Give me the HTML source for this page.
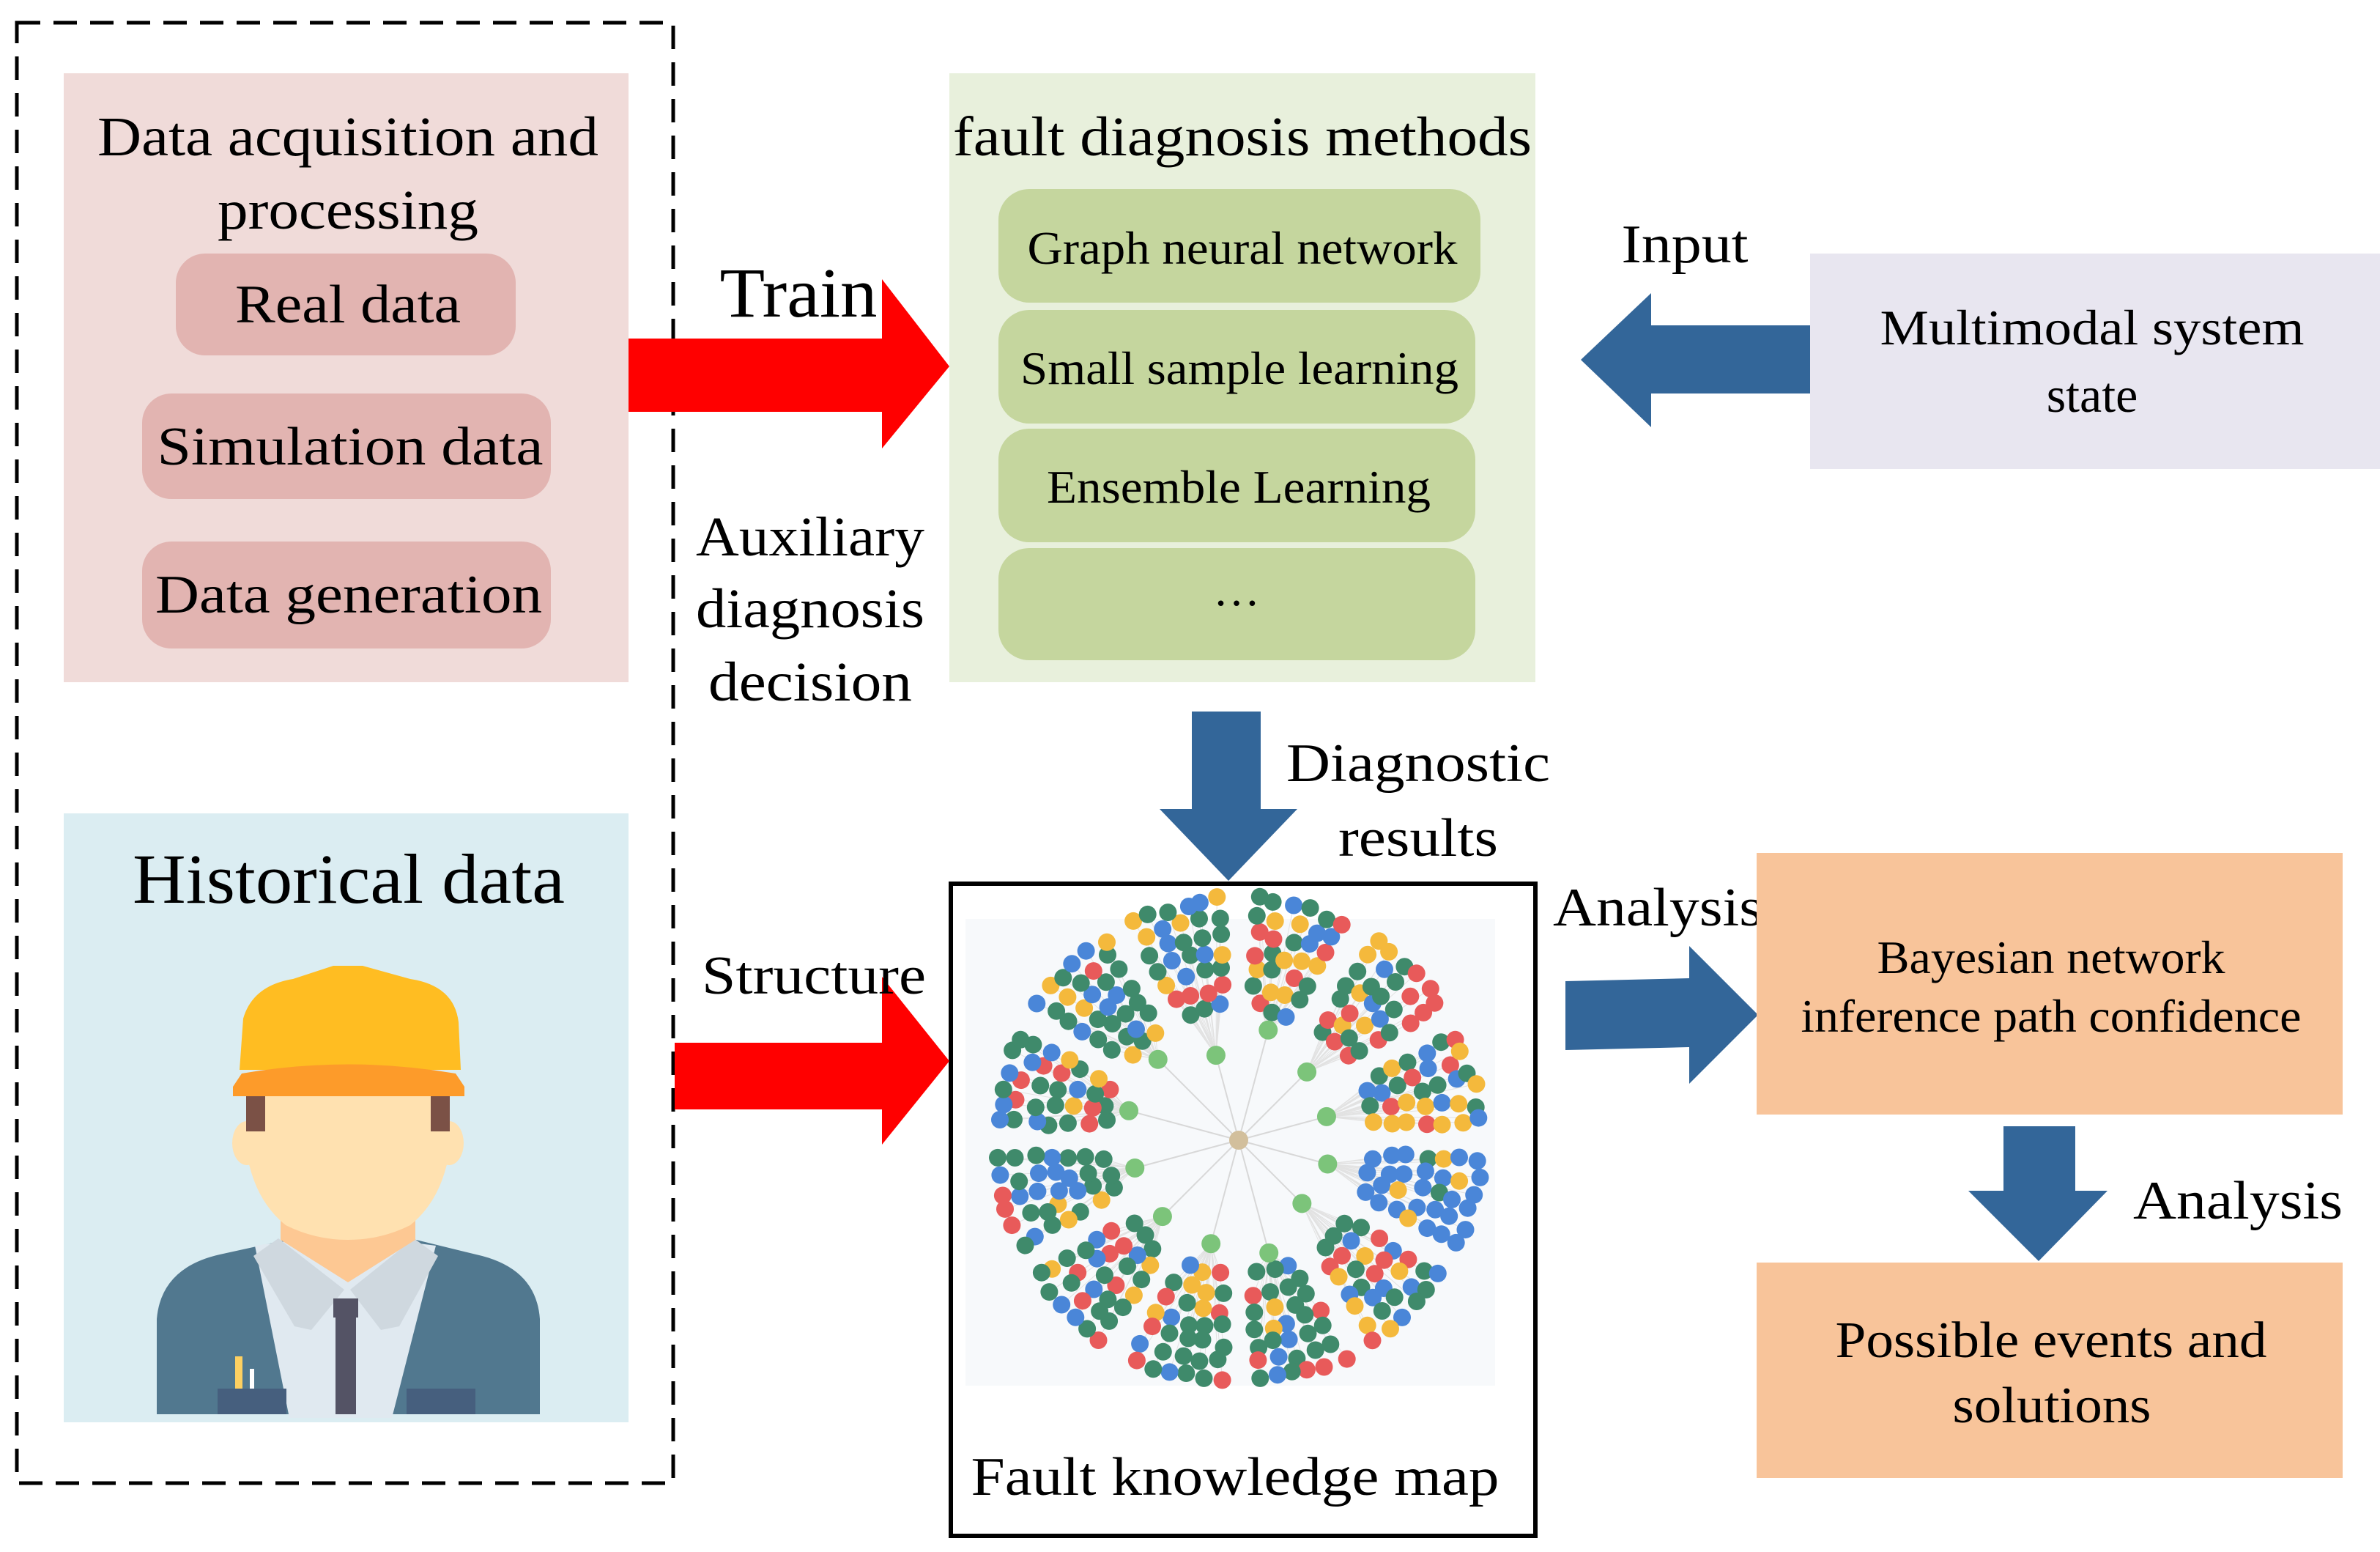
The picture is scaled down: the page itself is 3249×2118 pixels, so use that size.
<!DOCTYPE html>
<html><head><meta charset="utf-8"><style>
html,body{margin:0;padding:0;background:#fff;}
svg{display:block;}
text{font-family:"Liberation Serif",serif;fill:#000;}
</style></head><body>
<svg id="s" width="3249" height="2118" viewBox="0 0 3249 2118" xmlns="http://www.w3.org/2000/svg">
<rect width="3249" height="2118" fill="#fff"/>
<rect x="23" y="31" width="896" height="1993" fill="none" stroke="#000" stroke-width="5" stroke-dasharray="32,18"/>
<rect x="87" y="100" width="771" height="831" fill="#f0dbd9"/>
<text x="475" y="212" font-size="76" text-anchor="middle" textLength="684" lengthAdjust="spacingAndGlyphs">Data acquisition and</text>
<text x="475" y="312" font-size="76" text-anchor="middle" textLength="356" lengthAdjust="spacingAndGlyphs">processing</text>
<rect x="240" y="346" width="464" height="139" rx="40" fill="#e2b4b1"/>
<text x="475" y="440" font-size="74" text-anchor="middle" textLength="308" lengthAdjust="spacingAndGlyphs">Real data</text>
<rect x="194" y="537" width="558" height="144" rx="40" fill="#e2b4b1"/>
<text x="478" y="634" font-size="74" text-anchor="middle" textLength="527" lengthAdjust="spacingAndGlyphs">Simulation data</text>
<rect x="194" y="739" width="558" height="146" rx="40" fill="#e2b4b1"/>
<text x="476" y="836" font-size="74" text-anchor="middle" textLength="528" lengthAdjust="spacingAndGlyphs">Data generation</text>
<rect x="87" y="1110" width="771" height="831" fill="#dbedf2"/>
<text x="476" y="1232" font-size="96" text-anchor="middle" textLength="590" lengthAdjust="spacingAndGlyphs">Historical data</text>
<path d="M214 1930 L214 1800 Q220 1730 300 1712 L400 1690 L560 1690 L650 1712 Q732 1730 737 1800 L737 1930 Z" fill="#51788f"/>
<path d="M348 1700 L395 1935 L535 1935 L595 1700 L520 1690 L420 1690 Z" fill="#e0e9f0"/>
<path d="M346 1714 L380 1690 L470 1760 L425 1815 L402 1810 Z" fill="#cfd8df"/>
<path d="M598 1714 L565 1690 L478 1760 L520 1815 L545 1810 Z" fill="#cfd8df"/>
<path d="M383 1650 L383 1692 L475 1750 L567 1692 L567 1650 Z" fill="#fdc893"/>
<path d="M455 1772 L489 1772 L489 1798 L486 1798 L486 1930 L458 1930 L458 1798 L455 1798 Z" fill="#545365"/>
<rect x="297" y="1895" width="94" height="35" fill="#465f7e"/>
<rect x="555" y="1895" width="94" height="35" fill="#465f7e"/>
<rect x="321" y="1851" width="10" height="44" fill="#fdd061"/>
<rect x="341" y="1868" width="6" height="27" fill="#fff"/>
<ellipse cx="337" cy="1560" rx="20" ry="30" fill="#ffe1b0"/>
<ellipse cx="613" cy="1560" rx="20" ry="30" fill="#ffe1b0"/>
<path d="M338 1492 L612 1492 L612 1580 Q600 1640 560 1672 Q520 1692 475 1692 Q430 1692 390 1672 Q350 1640 338 1580 Z" fill="#ffe1b0"/>
<rect x="336" y="1492" width="26" height="52" fill="#7b5146"/>
<rect x="588" y="1492" width="26" height="52" fill="#7b5146"/>
<path d="M327 1460 L332 1390 Q345 1345 400 1336 L455 1318 L495 1318 L560 1336 Q620 1345 626 1395 L629 1460 Z" fill="#ffbd22"/>
<path d="M318 1483 L330 1465 Q475 1440 622 1465 L634 1483 L634 1496 L318 1496 Z" fill="#fd9b2a"/>
<polygon points="858,462 1204,462 1204,381 1296,500 1204,612 1204,562 858,562" fill="#ff0000"/>
<text x="1090" y="432" font-size="96" text-anchor="middle" textLength="215" lengthAdjust="spacingAndGlyphs">Train</text>
<text x="1106" y="758" font-size="76" text-anchor="middle" textLength="312" lengthAdjust="spacingAndGlyphs">Auxiliary</text>
<text x="1106" y="856" font-size="76" text-anchor="middle" textLength="312" lengthAdjust="spacingAndGlyphs">diagnosis</text>
<text x="1106" y="956" font-size="76" text-anchor="middle" textLength="278" lengthAdjust="spacingAndGlyphs">decision</text>
<rect x="1296" y="100" width="800" height="831" fill="#e8f0dc"/>
<text x="1696" y="212" font-size="76" text-anchor="middle" textLength="790" lengthAdjust="spacingAndGlyphs">fault diagnosis methods</text>
<rect x="1363" y="258" width="658" height="155" rx="42" fill="#c5d69e"/>
<rect x="1363" y="423" width="651" height="155" rx="42" fill="#c5d69e"/>
<rect x="1363" y="585" width="651" height="155" rx="42" fill="#c5d69e"/>
<rect x="1363" y="748" width="651" height="153" rx="42" fill="#c5d69e"/>
<text x="1696" y="360" font-size="64" text-anchor="middle" textLength="587" lengthAdjust="spacingAndGlyphs">Graph neural network</text>
<text x="1692" y="524" font-size="64" text-anchor="middle" textLength="598" lengthAdjust="spacingAndGlyphs">Small sample learning</text>
<text x="1691" y="686" font-size="64" text-anchor="middle" textLength="524" lengthAdjust="spacingAndGlyphs">Ensemble Learning</text>
<text x="1688" y="826" font-size="64" text-anchor="middle">…</text>
<polygon points="2158,491 2254,400 2254,444 2479,444 2479,537 2254,537 2254,583" fill="#336699"/>
<text x="2300" y="358" font-size="74" text-anchor="middle" textLength="173" lengthAdjust="spacingAndGlyphs">Input</text>
<rect x="2471" y="346" width="778" height="294" fill="#e8e6f0"/>
<text x="2856" y="470" font-size="68" text-anchor="middle" textLength="579" lengthAdjust="spacingAndGlyphs">Multimodal system</text>
<text x="2856" y="562" font-size="68" text-anchor="middle">state</text>
<polygon points="1627,971 1721,971 1721,1104 1771,1104 1677,1202 1583,1104 1627,1104" fill="#336699"/>
<text x="1936" y="1066" font-size="74" text-anchor="middle" textLength="360" lengthAdjust="spacingAndGlyphs">Diagnostic</text>
<text x="1936" y="1168" font-size="74" text-anchor="middle" textLength="218" lengthAdjust="spacingAndGlyphs">results</text>
<rect x="1298" y="1206" width="798" height="890" fill="#fff" stroke="#000" stroke-width="6"/>
<rect x="1318" y="1254" width="723" height="637" fill="#f7f9fb"/>
<g id="graph"></g>
<text x="1686" y="2040" font-size="74" text-anchor="middle" textLength="721" lengthAdjust="spacingAndGlyphs">Fault knowledge map</text>
<polygon points="921,1423 1204,1423 1204,1333 1296,1448 1204,1562 1204,1514 921,1514" fill="#ff0000"/>
<text x="1111" y="1356" font-size="74" text-anchor="middle" textLength="306" lengthAdjust="spacingAndGlyphs">Structure</text>
<polygon points="2137,1339 2306,1335 2306,1291 2400,1385 2306,1479 2306,1429 2137,1433" fill="#336699"/>
<text x="2263" y="1263" font-size="74" text-anchor="middle" textLength="286" lengthAdjust="spacingAndGlyphs">Analysis</text>
<rect x="2398" y="1164" width="800" height="357" fill="#f8c49a"/>
<text x="2800" y="1328" font-size="64" text-anchor="middle" textLength="475" lengthAdjust="spacingAndGlyphs">Bayesian network</text>
<text x="2800" y="1408" font-size="64" text-anchor="middle" textLength="683" lengthAdjust="spacingAndGlyphs">inference path confidence</text>
<polygon points="2735,1537 2833,1537 2833,1625 2877,1625 2783,1721 2687,1625 2735,1625" fill="#336699"/>
<text x="3055" y="1663" font-size="74" text-anchor="middle" textLength="286" lengthAdjust="spacingAndGlyphs">Analysis</text>
<rect x="2398" y="1723" width="800" height="294" fill="#f8c49a"/>
<text x="2800" y="1852" font-size="70" text-anchor="middle" textLength="589" lengthAdjust="spacingAndGlyphs">Possible events and</text>
<text x="2801" y="1941" font-size="70" text-anchor="middle" textLength="271" lengthAdjust="spacingAndGlyphs">solutions</text>
</svg>
<script>
(function(){
var g=document.getElementById('graph');
var cx=1691,cy=1556,seed=7;
function rnd(){seed=(seed*16807)%2147483647;return seed/2147483647;}
var cols=['#3f8a6b','#3f8a6b','#3f8a6b','#4a86d8','#e85a5a','#f4b93c'];
var lines='',nodes='',hubs='';
for(var k=0;k<12;k++){
 var a=(-105+k*30)*Math.PI/180;
 var hr=120+rnd()*40;
 var hx=cx+hr*Math.cos(a),hy=cy+hr*Math.sin(a);
 lines+='<line x1="'+cx+'" y1="'+cy+'" x2="'+hx+'" y2="'+hy+'" stroke="#d8d8d8" stroke-width="2"/>';
 hubs+='<circle cx="'+hx+'" cy="'+hy+'" r="13" fill="#7cc47a"/>';
 for(var r=185;r<=335;r+=24){
  var span=Math.min(0.44,(r-120)/r*1.0);
  var n=Math.max(2,Math.round(span*r/25));
  for(var i=0;i<n;i++){
   var t=a-span/2+span*(i+0.5)/n+(rnd()-0.5)*0.03;
   var rr=r+(rnd()-0.5)*10;
   var x=cx+rr*Math.cos(t),y=cy+rr*Math.sin(t);
   var c=cols[Math.floor(rnd()*cols.length)];
   if(k==4&&rnd()<0.8)c='#4a86d8';
   lines+='<line x1="'+hx+'" y1="'+hy+'" x2="'+x+'" y2="'+y+'" stroke="#e2e2e2" stroke-width="1"/>';
   nodes+='<circle cx="'+x.toFixed(1)+'" cy="'+y.toFixed(1)+'" r="12" fill="'+c+'"/>';
  }
 }
}
hubs+='<circle cx="'+cx+'" cy="'+cy+'" r="13" fill="#d2bf9c"/>';
g.innerHTML=lines+nodes+hubs;
})();
</script>
</body></html>
